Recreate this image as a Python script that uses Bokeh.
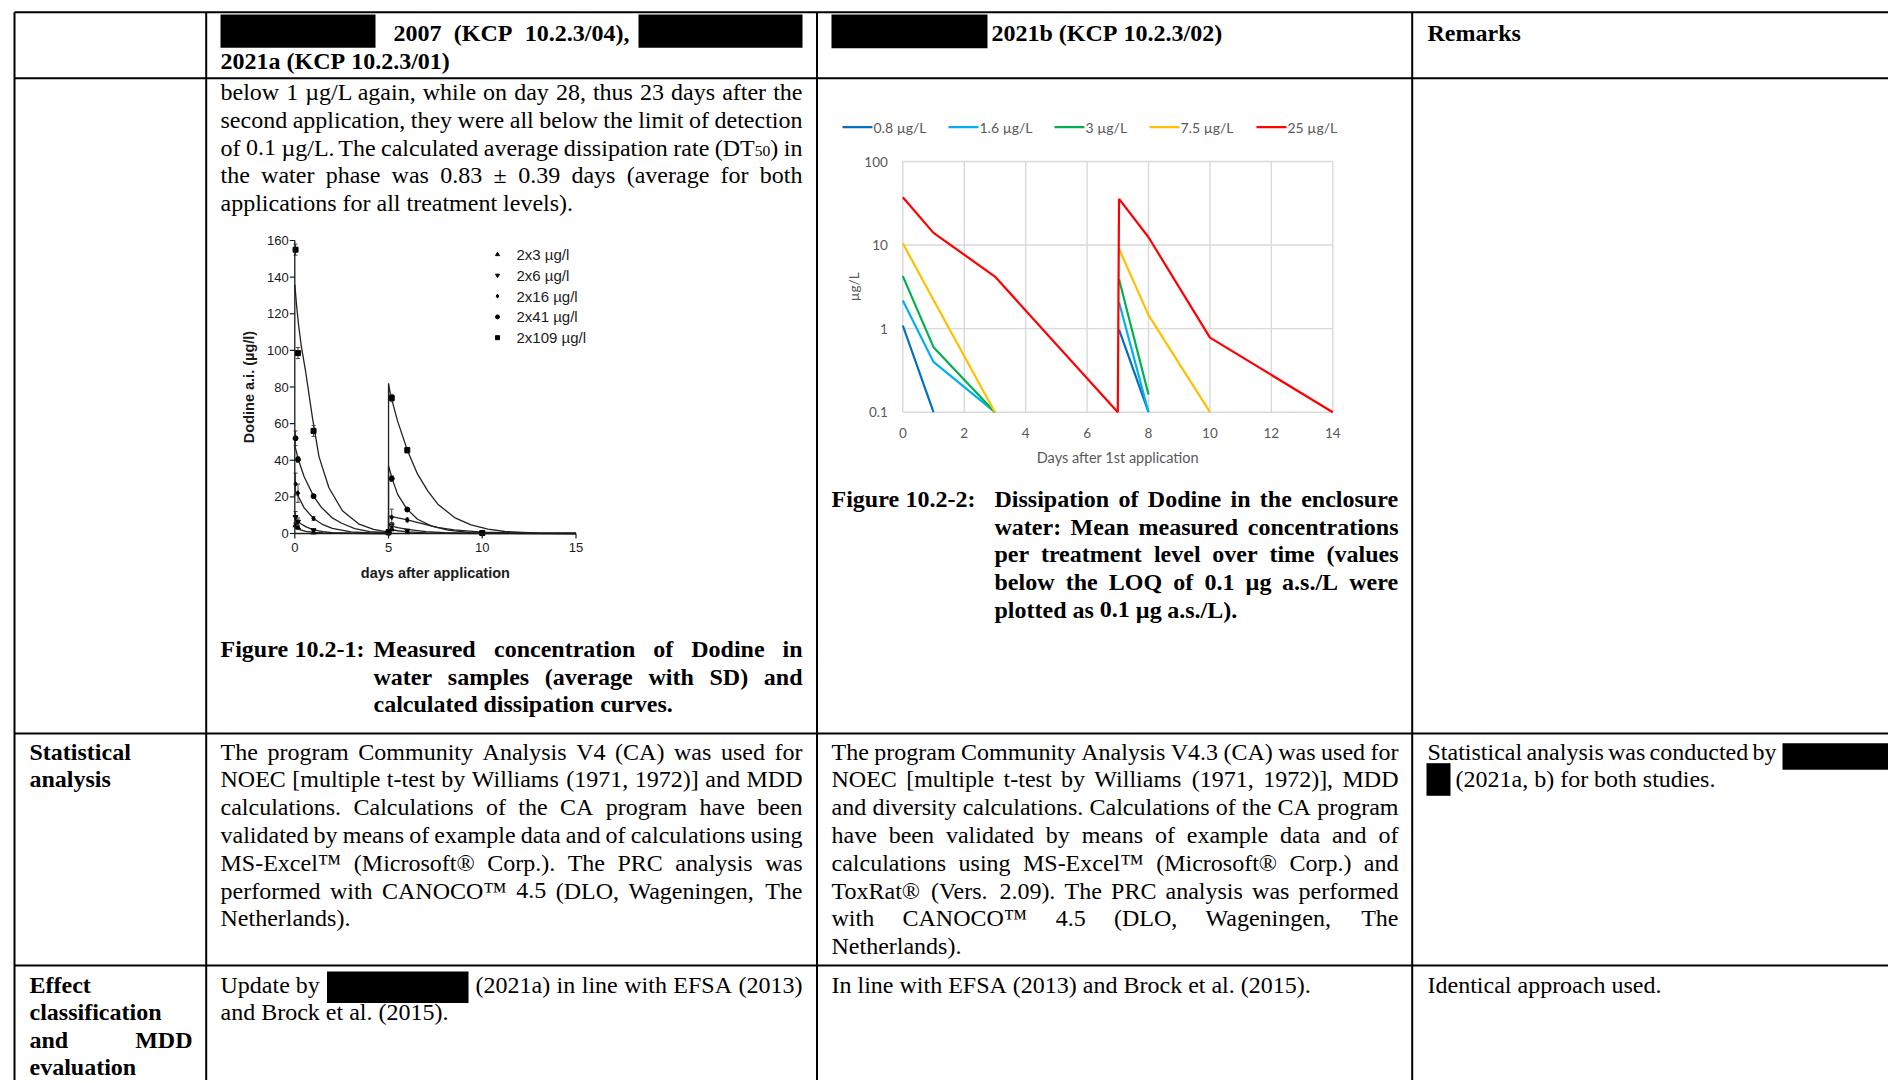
import math
from bokeh.plotting import figure
from bokeh.models import Range1d, LogScale, ColumnDataSource
from bokeh.core.properties import value
from bokeh.embed import file_html
from bokeh.resources import INLINE

NaN = float("nan")

# ---------------- data: Figure 10.2-1 (measured points, mean and SD) ----------------
c1_labels = ["2x3 µg/l", "2x6 µg/l", "2x16 µg/l", "2x41 µg/l", "2x109 µg/l"]
c1_markers = ["triangle", "inverted_triangle", "diamond", "circle", "square"]
c1_days = [0.04, 0.17, 1, 5, 5.17, 6, 10]
c1_mean_3 = [4.5, 3.2, 0.5, 0.1, 2.3, 0.7, 0.0]
c1_mean_6 = [9.0, 6.5, 1.8, 0.2, 4.5, 1.6, 0.0]
c1_mean_16 = [27.0, 22.0, 8.2, 0.3, 8.8, 7.4, 0.1]
c1_mean_41 = [52.0, 40.4, 20.4, 0.5, 30.0, 13.1, 0.2]
c1_mean_109 = [155.0, 98.5, 56.0, 0.8, 74.0, 45.5, 0.3]
c1_sd_3 = [1.0, 0.8, 0.2, 0.1, 0.8, 0.3, 0.0]
c1_sd_6 = [3.0, 2.0, 0.5, 0.1, 1.5, 0.5, 0.0]
c1_sd_16 = [6.0, 5.0, 1.0, 0.2, 4.5, 1.0, 0.1]
c1_sd_41 = [4.0, 1.5, 0.8, 0.2, 1.5, 0.8, 0.1]
c1_sd_109 = [3.0, 3.0, 3.0, 0.3, 2.0, 1.5, 0.2]

# calculated dissipation curves
c1_fit_t_109 = [0, 0.1, 0.2, 0.35, 0.57, 0.93, 1.29, 1.82, 2.54, 3.43, 4.2, 5.0, 5.0, 5.1, 5.48, 6.02, 6.55, 7.09, 7.63, 8.52, 9.4, 10.3, 11.2, 13, 15]
c1_fit_v_109 = [136, 124, 114, 102, 89, 64, 42, 25, 12.4, 5.1, 2.2, 0.8, 82, 76, 61.5, 45, 32.4, 23.3, 16, 8.7, 4.7, 2.4, 1.1, 0.25, 0.05]
c1_fit_t_41 = [0, 0.2, 0.5, 1.0, 1.4, 2.0, 2.5, 3.2, 4.0, 5.0, 5.0, 5.2, 5.48, 5.98, 6.55, 7.27, 8.16, 9.4, 11, 15]
c1_fit_v_41 = [48, 40, 31, 20.4, 14.5, 8.5, 5.6, 2.7, 1.0, 0.4, 37, 29.7, 21.5, 13.3, 7.8, 4.2, 1.8, 0.5, 0.1, 0]
c1_fit_t_16 = [0, 0.2, 0.5, 1.0, 1.5, 2.0, 3.0, 4.0, 5.0, 5.0, 5.5, 6.0, 7.0, 7.6, 8.5, 10, 12, 15]
c1_fit_v_16 = [24, 20, 14, 8.2, 4.8, 2.8, 0.9, 0.3, 0.1, 9.6, 8.5, 7.5, 4.8, 3.3, 2.0, 0.7, 0.2, 0]
c1_fit_t_6 = [0, 0.3, 0.6, 1, 1.5, 2, 3, 5, 5, 5.5, 6, 7, 8, 10, 15]
c1_fit_v_6 = [8, 5.5, 3.6, 2.0, 1.0, 0.5, 0.15, 0, 4.5, 3.2, 2.2, 1.0, 0.45, 0.1, 0]
c1_fit_t_3 = [0, 0.3, 0.6, 1, 1.5, 2, 3, 5, 5, 5.5, 6, 7, 8, 10, 15]
c1_fit_v_3 = [3.5, 2.0, 1.2, 0.6, 0.3, 0.15, 0.05, 0, 2.4, 1.5, 0.9, 0.35, 0.12, 0, 0]

c1_xticks = [0, 5, 10, 15]
c1_yticks = [0, 20, 40, 60, 80, 100, 120, 140, 160]

# ---------------- data: Figure 10.2-2 (mean measured, log scale) ----------------
c2_labels = ["0.8 µg/L", "1.6 µg/L", "3 µg/L", "7.5 µg/L", "25 µg/L"]
c2_colors = ["#0070C0", "#00B0F0", "#00B050", "#FFC000", "#FF0000"]
c2_days = [0, 1, 3, 7, 7.04, 8, 10, 14]
c2_0_8 = [1.09, 0.1, NaN, NaN, 0.97, 0.1, NaN, NaN]
c2_1_6 = [2.17, 0.40, 0.1, NaN, 2.07, 0.1, NaN, NaN]
c2_3 = [4.25, 0.60, 0.1, NaN, 3.9, 0.163, NaN, NaN]
c2_7_5 = [10.5, 2.2, 0.1, NaN, 9.0, 1.45, 0.1, NaN]
c2_25 = [37.4, 14.0, 4.2, 0.1, 35.7, 12.4, 0.78, 0.1]
c2_xticks = [0, 2, 4, 6, 8, 10, 12, 14]
c2_yticks = [0.1, 1, 10, 100]
c2_ytick_labels = ["0.1", "1", "10", "100"]

# ---------------- page / figure ----------------
W, H = 1888, 1080
p = figure(width=W, height=H, output_backend="svg", toolbar_location=None,
           x_range=Range1d(0, W), y_range=Range1d(H, 0),
           x_axis_type=None, y_axis_type=None, min_border=0)
p.outline_line_color = None
p.background_fill_color = "white"
p.border_fill_color = "white"

FX0, FX1, FYB, FYT = 0, W, H, 0

def lin_map(v0, s0, v1, s1, sa, sb):
    k = (v1 - v0) / (s1 - s0)
    return v0 + (sa - s0) * k, v0 + (sb - s0) * k

# chart 1 placement (page px of axis anchors)
C1_X0, C1_X15, C1_Y0, C1_Y160 = 294.3, 575.5, 533.0, 240.0
a, b = lin_map(0, C1_X0, 15, C1_X15, FX0, FX1)
c1x = Range1d(a, b)
a, b = lin_map(0, C1_Y0, 160, C1_Y160, FYB, FYT)
c1y = Range1d(a, b)
# chart 2 placement
C2_X0, C2_X14, C2_YLO, C2_YHI = 902.3, 1332.3, 411.7, 161.0
a, b = lin_map(0, C2_X0, 14, C2_X14, FX0, FX1)
c2x = Range1d(a, b)
a, b = lin_map(-1, C2_YLO, 2, C2_YHI, FYB, FYT)
c2y = Range1d(10 ** a, 10 ** b)

p.extra_x_ranges = {"c1x": c1x, "c2x": c2x}
p.extra_y_ranges = {"c1y": c1y, "c2y": c2y}
p.extra_y_scales = {"c2y": LogScale()}

# ---------------- table grid ----------------
COLS = [14, 205.7, 816.5, 1411.7]
ROWS = [11.7, 77.7, 733.0, 965.0]
p.segment(x0=[COLS[0]] * 4, x1=[FX1] * 4, y0=ROWS, y1=ROWS, line_color="black", line_width=2)
p.segment(x0=COLS, x1=COLS, y0=[ROWS[0]] * 4, y1=[FYB] * 4, line_color="black", line_width=2)

# redaction boxes
box_l = [220, 638, 831, 1782, 1426, 326.5]
box_r = [375, 802, 987, 1896, 1450, 468]
box_t = [14, 14, 14, 742.7, 762.7, 971]
box_b = [47.3, 47.3, 47.7, 769.3, 795.3, 1002.5]
p.quad(left=box_l, right=box_r, top=box_t, bottom=box_b, fill_color="black", line_color=None)

# ---------------- text machinery (Times metrics) ----------------
TR = {' ': 250, '!': 333, '(': 333, ')': 333, ',': 250, '-': 333, '.': 250, '/': 278, ':': 278,
      ';': 278, '[': 333, ']': 333, '±': 564, 'µ': 500, '™': 980, '®': 760}
TB = {' ': 250, '(': 333, ')': 333, ',': 250, '-': 333, '.': 250, '/': 278, ':': 333, 'µ': 556}
for d in "0123456789":
    TR[d] = 500
    TB[d] = 500
TR.update(dict(zip("ABCDEFGHIJKLMNOPQRSTUVWXYZ",
                   [722, 667, 667, 722, 611, 556, 722, 722, 333, 389, 722, 611, 889, 722, 722, 556, 722, 667, 556, 611, 722, 722, 944, 722, 722, 611])))
TR.update(dict(zip("abcdefghijklmnopqrstuvwxyz",
                   [444, 500, 444, 500, 444, 333, 500, 500, 278, 278, 500, 278, 778, 500, 500, 500, 500, 333, 389, 278, 500, 500, 722, 500, 500, 444])))
TB.update(dict(zip("ABCDEFGHIJKLMNOPQRSTUVWXYZ",
                   [722, 667, 722, 722, 667, 611, 778, 778, 389, 500, 778, 667, 944, 722, 778, 611, 778, 722, 556, 667, 722, 722, 1000, 722, 722, 667])))
TB.update(dict(zip("abcdefghijklmnopqrstuvwxyz",
                   [500, 556, 444, 556, 444, 333, 500, 556, 278, 333, 556, 278, 833, 556, 500, 556, 556, 444, 389, 333, 556, 500, 722, 500, 500, 444])))

FS = 24.0
LH = 27.8
SERIF = "Liberation Serif"
runs = {False: dict(x=[], y=[], text=[], size=[]), True: dict(x=[], y=[], text=[], size=[])}

def sw(s, bold, fs):
    t = TB if bold else TR
    return sum(t.get(ch, 500) for ch in s) * fs / 1000.0

def parts(w):
    out = []
    while "_{" in w:
        pre, rest = w.split("_{", 1)
        sub, w = rest.split("}", 1)
        if pre:
            out.append((pre, 1.0, 0.0))
        out.append((sub, 0.65, 0.15))
    if w:
        out.append((w, 1.0, 0.0))
    return out

def put(s, x, y, bold, fs):
    r = runs[bold]
    r["x"].append(x); r["y"].append(y); r["text"].append(s); r["size"].append("%.2fpx" % fs)

def line(txt, x0, x1, y, justify=False, bold=False, fs=FS):
    words = txt.split(" ")
    wid = [sum(sw(t, bold, fs * sc) for t, sc, dy in parts(w)) for w in words]
    if justify and len(words) > 1:
        gap = (x1 - x0 - sum(wid)) / (len(words) - 1)
    else:
        gap = sw(" ", bold, fs)
    x = x0
    for w, wd in zip(words, wid):
        xx = x
        for t, sc, dy in parts(w):
            put(t, xx, y + dy * fs, bold, fs * sc)
            xx += sw(t, bold, fs * sc)
        x += wd + gap

def para(lines, x0, x1, y0, bold=False, last_left=True):
    for i, t in enumerate(lines):
        j = not (last_left and i == len(lines) - 1)
        line(t, x0, x1, y0 + i * LH, justify=j, bold=bold)

# header row
HR = 32.5
line("2007 (KCP 10.2.3/04),", 393, 629, HR, justify=True, bold=True)
line("2021a (KCP 10.2.3/01)", 220, 802, HR + LH, bold=True)
line("2021b (KCP 10.2.3/02)", 991, 1398, HR, bold=True)
line("Remarks", 1427, 1880, HR, bold=True)

# body text column 2
para(["below 1 µg/L again, while on day 28, thus 23 days after the",
      "second application, they were all below the limit of detection",
      "of 0.1 µg/L. The calculated average dissipation rate (DT_{50}) in",
      "the water phase was 0.83 ± 0.39 days (average for both",
      "applications for all treatment levels)."], 220, 802, 91.5)

# captions
line("Figure 10.2-1:", 220, 373, 648.2, bold=True)
para(["Measured concentration of Dodine in",
      "water samples (average with SD) and",
      "calculated dissipation curves."], 373, 802, 648.2, bold=True)
line("Figure 10.2-2:", 831, 994, 498.2, bold=True)
para(["Dissipation of Dodine in the enclosure",
      "water: Mean measured concentrations",
      "per treatment level over time (values",
      "below the LOQ of 0.1 µg a.s./L were",
      "plotted as 0.1 µg a.s./L)."], 994, 1398, 498.2, bold=True)

# statistical analysis row
SR = 751
para(["Statistical", "analysis"], 29, 192, SR, bold=True)
para(["The program Community Analysis V4 (CA) was used for",
      "NOEC [multiple t-test by Williams (1971, 1972)] and MDD",
      "calculations. Calculations of the CA program have been",
      "validated by means of example data and of calculations using",
      "MS-Excel™ (Microsoft® Corp.). The PRC analysis was",
      "performed with CANOCO™ 4.5 (DLO, Wageningen, The",
      "Netherlands)."], 220, 802, SR)
para(["The program Community Analysis V4.3 (CA) was used for",
      "NOEC [multiple t-test by Williams (1971, 1972)], MDD",
      "and diversity calculations. Calculations of the CA program",
      "have been validated by means of example data and of",
      "calculations using MS-Excel™ (Microsoft® Corp.) and",
      "ToxRat® (Vers. 2.09). The PRC analysis was performed",
      "with CANOCO™ 4.5 (DLO, Wageningen, The",
      "Netherlands)."], 831, 1398, SR)
line("Statistical analysis was conducted by", 1427, 1776, SR, justify=True)
line("(2021a, b) for both studies.", 1455, 1880, SR + LH)

# effect classification row
ER = 984
line("Effect", 29, 192, ER, bold=True)
line("classification", 29, 192, ER + LH, bold=True)
line("and MDD", 29, 192, ER + 2 * LH, justify=True, bold=True)
line("evaluation", 29, 192, ER + 3 * LH - 1, bold=True)
line("Update by", 220, 320, ER)
line("(2021a) in line with EFSA (2013)", 475, 802, ER, justify=True)
line("and Brock et al. (2015).", 220, 802, ER + LH)
line("In line with EFSA (2013) and Brock et al. (2015).", 831, 1398, ER)
line("Identical approach used.", 1427, 1880, ER)

for bold, r in runs.items():
    p.text(x="x", y="y", text="text", source=ColumnDataSource(r), text_font=value(SERIF),
           text_font_size="size", text_baseline="alphabetic", text_align="left",
           text_color="black", text_font_style="bold" if bold else "normal")

# ---------------- chart 1 (linear) ----------------
SANS = "Liberation Sans"
INK = "#1a1a1a"
fits = [(c1_fit_t_3, c1_fit_v_3), (c1_fit_t_6, c1_fit_v_6), (c1_fit_t_16, c1_fit_v_16),
        (c1_fit_t_41, c1_fit_v_41), (c1_fit_t_109, c1_fit_v_109)]
means = [c1_mean_3, c1_mean_6, c1_mean_16, c1_mean_41, c1_mean_109]
sds = [c1_sd_3, c1_sd_6, c1_sd_16, c1_sd_41, c1_sd_109]
for (ft, fv) in fits:
    p.line(ft, fv, x_range_name="c1x", y_range_name="c1y", line_color="#222222", line_width=1.3)
for m, s, mk in zip(means, sds, c1_markers):
    lo = [a - b for a, b in zip(m, s)]
    hi = [a + b for a, b in zip(m, s)]
    p.segment(x0=c1_days, x1=c1_days, y0=lo, y1=hi, x_range_name="c1x", y_range_name="c1y",
              line_color="#444444", line_width=1)
    p.dash(x=c1_days + c1_days, y=lo + hi, size=4, x_range_name="c1x", y_range_name="c1y",
           line_color="#444444", line_width=1)
    p.scatter(x=c1_days, y=m, marker=mk, size=5, x_range_name="c1x", y_range_name="c1y",
              fill_color="black", line_color="black")
# axes of chart 1
p.segment(x0=[0, 0], x1=[0, 15], y0=[0, 0], y1=[160, 0], x_range_name="c1x", y_range_name="c1y",
          line_color=INK, line_width=1.3)
p.segment(x0=[C1_X0 - 5] * len(c1_yticks), x1=[C1_X0] * len(c1_yticks), y0=c1_yticks, y1=c1_yticks,
          y_range_name="c1y", line_color=INK, line_width=1.2)
p.segment(x0=c1_xticks, x1=c1_xticks, y0=[C1_Y0] * 4, y1=[C1_Y0 + 5] * 4,
          x_range_name="c1x", line_color=INK, line_width=1.2)
p.text(x=[C1_X0 - 6] * len(c1_yticks), y=c1_yticks, text=[str(v) for v in c1_yticks], y_range_name="c1y",
       text_font=value(SANS), text_font_size=value("13px"), text_align="right", text_baseline="middle",
       text_color=INK)
p.text(x=c1_xticks, y=[C1_Y0 + 9] * 4, text=[str(v) for v in c1_xticks], x_range_name="c1x",
       text_font=value(SANS), text_font_size=value("13px"), text_align="center", text_baseline="top",
       text_color=INK)
p.text(x=[7.5], y=[C1_Y0 + 39], text=["days after application"], x_range_name="c1x",
       text_font=value(SANS), text_font_size=value("14.5px"), text_font_style="bold",
       text_align="center", text_baseline="middle", text_color=INK)
p.text(x=[C1_X0 - 46], y=[80], text=["Dodine a.i. (µg/l)"], y_range_name="c1y", angle=math.pi / 2,
       text_font=value(SANS), text_font_size=value("14.5px"), text_font_style="bold",
       text_align="center", text_baseline="middle", text_color=INK)
# legend of chart 1
LG1_X, LG1_Y, LG1_DY = 497, 254, 20.8
for i, (lab, mk) in enumerate(zip(c1_labels, c1_markers)):
    p.scatter(x=[LG1_X], y=[LG1_Y + i * LG1_DY], marker=mk, size=4, fill_color="black", line_color="black")
    p.text(x=[LG1_X + 19], y=[LG1_Y + i * LG1_DY], text=[lab], text_font=value(SANS),
           text_font_size=value("15px"), text_baseline="middle", text_color=INK)

# ---------------- chart 2 (log) ----------------
CAL = "Lato"
GREY = "#595959"
GRID = "#D9D9D9"
n2 = len(c2_xticks)
p.segment(x0=c2_xticks, x1=c2_xticks, y0=[0.1] * n2, y1=[100] * n2, x_range_name="c2x", y_range_name="c2y",
          line_color=GRID, line_width=1.4)
p.segment(x0=[0] * 4, x1=[14] * 4, y0=c2_yticks, y1=c2_yticks, x_range_name="c2x", y_range_name="c2y",
          line_color=GRID, line_width=1.4)
for ser, col in zip([c2_0_8, c2_1_6, c2_3, c2_7_5, c2_25], c2_colors):
    p.line(c2_days, ser, x_range_name="c2x", y_range_name="c2y", line_color=col, line_width=2.2)
p.text(x=[C2_X0 - 15] * 4, y=c2_yticks, text=c2_ytick_labels, y_range_name="c2y",
       text_font=value(CAL), text_font_size=value("13.5px"), text_align="right", text_baseline="middle",
       text_color=GREY)
p.text(x=c2_xticks, y=[C2_YLO + 21] * n2, text=[str(v) for v in c2_xticks], x_range_name="c2x",
       text_font=value(CAL), text_font_size=value("13.5px"), text_align="center", text_baseline="middle",
       text_color=GREY)
p.text(x=[7], y=[C2_YLO + 45], text=["Days after 1st application"], x_range_name="c2x",
       text_font=value(CAL), text_font_size=value("14.5px"), text_align="center", text_baseline="middle",
       text_color=GREY)
p.text(x=[C2_X0 - 49], y=[math.sqrt(10)], text=["µg/L"], y_range_name="c2y", angle=math.pi / 2,
       text_font=value(CAL), text_font_size=value("13.5px"), text_align="center", text_baseline="middle",
       text_color=GREY)
# legend of chart 2
LG2_X = [842, 948, 1054, 1149, 1256]
LG2_Y = 126.7
for lx, lab, col in zip(LG2_X, c2_labels, c2_colors):
    p.segment(x0=[lx], x1=[lx + 30], y0=[LG2_Y], y1=[LG2_Y], line_color=col, line_width=2.2)
    p.text(x=[lx + 31], y=[LG2_Y], text=[lab], text_font=value(CAL), text_font_size=value("14px"),
           text_baseline="middle", text_color=GREY)

open("out.html", "w").write(file_html(p, INLINE))
